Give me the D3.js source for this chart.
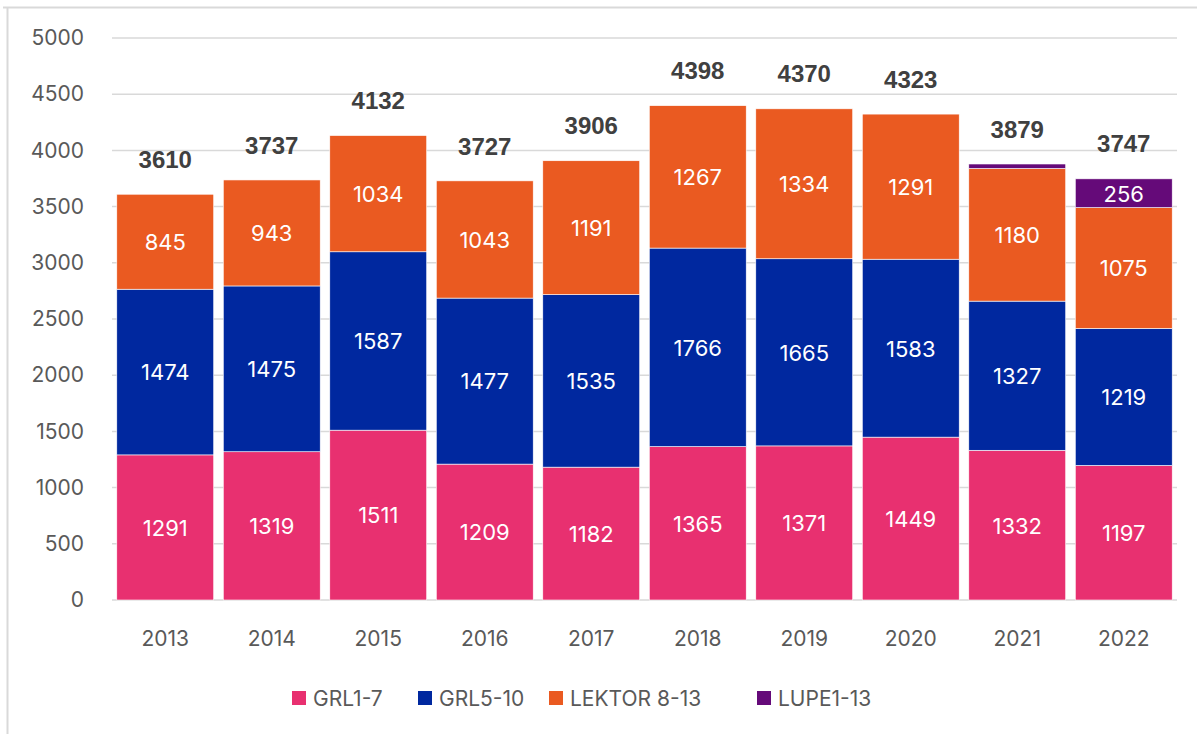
<!DOCTYPE html>
<html>
<head>
<meta charset="utf-8">
<script src="https://cdn.jsdelivr.net/npm/d3@7"></script>
<style>
  html, body { margin: 0; padding: 0; background: #fff; }
  svg { display: block; }
</style>
</head>
<body>
<div id="area"></div>
<script>
// data
var years = ['2013', '2014', '2015', '2016', '2017', '2018', '2019', '2020', '2021', '2022'];
var seriesNames = ['GRL1-7', 'GRL5-10', 'LEKTOR 8-13', 'LUPE1-13'];
var grl17 = [1291, 1319, 1511, 1209, 1182, 1365, 1371, 1449, 1332, 1197];
var grl510 = [1474, 1475, 1587, 1477, 1535, 1766, 1665, 1583, 1327, 1219];
var lektor = [845, 943, 1034, 1043, 1191, 1267, 1334, 1291, 1180, 1075];
var lupe = [0, 0, 0, 0, 0, 0, 0, 0, 40, 256];
// totals as printed above the bars
var totals = [3610, 3737, 4132, 3727, 3906, 4398, 4370, 4323, 3879, 3747];
var yTicks = [0, 500, 1000, 1500, 2000, 2500, 3000, 3500, 4000, 4500, 5000];

var colors = ['#E83070', '#00289F', '#EA5A21', '#650A79'];

var width = 1197, height = 734;
var tickFont = 'Inter, "Open Sans", sans-serif';

var svg = d3.select('#area').append('svg')
    .attr('width', width)
    .attr('height', height);

// chart frame (top and left edge visible)
svg.append('line')
    .attr('x1', 3).attr('x2', width).attr('y1', 7.5).attr('y2', 7.5)
    .attr('stroke', '#d9d9d9').attr('stroke-width', 2);
svg.append('line')
    .attr('x1', 7.5).attr('x2', 7.5).attr('y1', 7).attr('y2', height)
    .attr('stroke', '#d9d9d9').attr('stroke-width', 2);

var x = d3.scaleBand()
    .domain(years)
    .range([112, 1177])
    .paddingInner(0.09)
    .paddingOuter(0.045);

var y = d3.scaleLinear()
    .domain([0, 5000])
    .range([600, 38]);

// gridlines
svg.append('g')
  .selectAll('line')
  .data(yTicks)
  .enter().append('line')
    .attr('x1', 112)
    .attr('x2', 1177)
    .attr('y1', function(d) { return y(d); })
    .attr('y2', function(d) { return y(d); })
    .attr('stroke', '#d9d9d9')
    .attr('stroke-width', 1.5);

// y axis labels
var yAxis = d3.axisLeft(y).tickValues(yTicks).tickFormat(d3.format('d')).tickSize(0).tickPadding(0);
var yg = svg.append('g').attr('transform', 'translate(84,0)').call(yAxis);
yg.select('.domain').remove();
yg.selectAll('text')
    .attr('font-family', tickFont)
    .attr('font-size', '21px')
    .attr('fill', '#595959');

// x axis labels
var xAxis = d3.axisBottom(x).tickSize(0).tickPadding(0);
var xg = svg.append('g').attr('transform', 'translate(0,631)').call(xAxis);
xg.select('.domain').remove();
xg.selectAll('text')
    .attr('font-family', tickFont)
    .attr('font-size', '21px')
    .attr('fill', '#595959');

// stack
var rows = years.map(function(yr, i) {
  return { year: yr, s0: grl17[i], s1: grl510[i], s2: lektor[i], s3: lupe[i], total: totals[i] };
});
var stack = d3.stack().keys(['s0', 's1', 's2', 's3']);
var layers = stack(rows);

var layerG = svg.append('g')
  .selectAll('g')
  .data(layers)
  .enter().append('g')
    .attr('fill', function(d, i) { return colors[i]; });

layerG.selectAll('rect')
  .data(function(d) { return d; })
  .enter().append('rect')
    .attr('x', function(d) { return x(d.data.year); })
    .attr('width', x.bandwidth())
    .attr('y', function(d) { return y(d[1]); })
    .attr('height', function(d) { return y(d[0]) - y(d[1]); })
    .attr('stroke', '#fff')
    .attr('stroke-width', 0.6);

// value labels inside segments (skip tiny ones)
layerG.selectAll('text')
  .data(function(d) { return d; })
  .enter().filter(function(d) { return d[1] - d[0] >= 100; })
  .append('text')
    .attr('x', function(d) { return x(d.data.year) + x.bandwidth() / 2; })
    .attr('y', function(d) { return (y(d[0]) + y(d[1])) / 2; })
    .attr('dy', '0.38em')
    .attr('text-anchor', 'middle')
    .attr('font-family', tickFont)
    .attr('font-size', '22px')
    .attr('fill', '#fff')
    .text(function(d) { return d[1] - d[0]; });

// totals above the bars
svg.append('g')
  .selectAll('text')
  .data(rows)
  .enter().append('text')
    .attr('x', function(d) { return x(d.year) + x.bandwidth() / 2; })
    .attr('y', function(d) { return y(d.s0 + d.s1 + d.s2 + d.s3) - 35; })
    .attr('dy', '0.36em')
    .attr('text-anchor', 'middle')
    .attr('font-family', '"Liberation Sans", Arial, sans-serif')
    .attr('font-weight', 'bold')
    .attr('font-size', '24px')
    .attr('fill', '#404040')
    .text(function(d) { return d.total; });

// legend
var legendX = [292, 418, 549, 757];
var legend = svg.append('g')
  .selectAll('g')
  .data(seriesNames)
  .enter().append('g')
    .attr('transform', function(d, i) { return 'translate(' + legendX[i] + ',691)'; });

legend.append('rect')
    .attr('width', 14)
    .attr('height', 14)
    .attr('fill', function(d, i) { return colors[i]; });

legend.append('text')
    .attr('x', 21)
    .attr('y', 7)
    .attr('dy', '0.36em')
    .attr('font-family', tickFont)
    .attr('font-size', '21px')
    .attr('fill', '#595959')
    .text(function(d) { return d; });
</script>
</body>
</html>
